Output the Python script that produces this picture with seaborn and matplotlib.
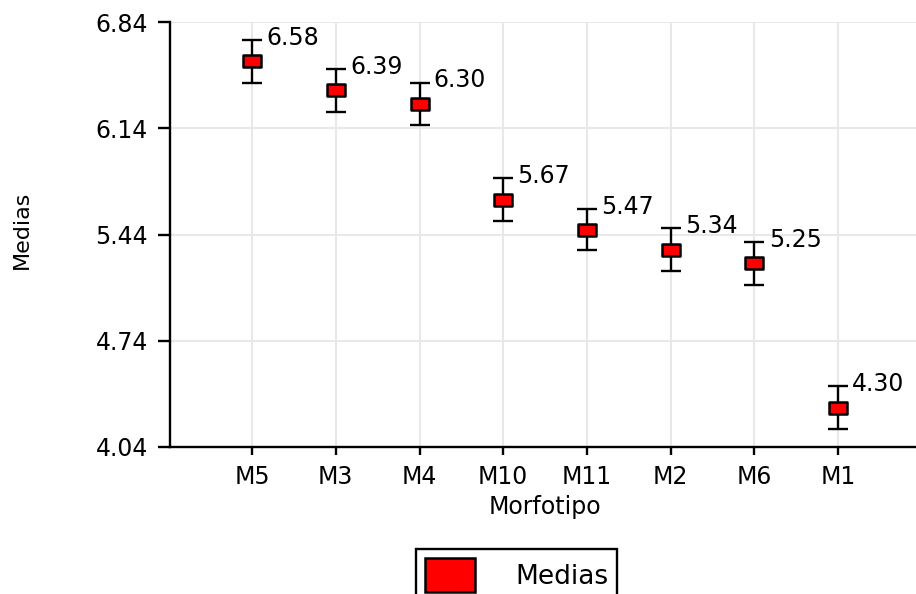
import matplotlib
matplotlib.use("Agg")
import matplotlib.pyplot as plt
import matplotlib.patches as mpatches
from matplotlib.path import Path
import seaborn as sns
import pandas as pd

# Mean values per morphotype with their error half-widths
morfotipos = ["M5", "M3", "M4", "M10", "M11", "M2", "M6", "M1"]
medias = [6.58, 6.39, 6.30, 5.67, 5.47, 5.34, 5.25, 4.30]
errores = [0.14, 0.14, 0.14, 0.14, 0.135, 0.14, 0.14, 0.14]
yticks = [4.04, 4.74, 5.44, 6.14, 6.84]

df = pd.DataFrame({"Morfotipo": morfotipos, "Medias": medias, "err": errores})

sns.set_theme(style="white")
plt.rcParams["font.family"] = ["DejaVu Sans"]
plt.rcParams["text.color"] = "black"
plt.rcParams["xtick.color"] = "black"
plt.rcParams["ytick.color"] = "black"
plt.rcParams["axes.labelcolor"] = "black"

FS = 17

fig = plt.figure(figsize=(9.16, 5.94), dpi=100)
ax = fig.add_axes([170 / 916, 1 - 447 / 594, 1 - 170 / 916, (447 - 22) / 594])

# Wide, short rectangle used as the point marker
rect = Path([(-1, -0.62), (1, -0.62), (1, 0.62), (-1, 0.62), (-1, -0.62)],
            [Path.MOVETO, Path.LINETO, Path.LINETO, Path.LINETO, Path.CLOSEPOLY])

xpos = list(range(len(morfotipos)))
ax.errorbar(xpos, df["Medias"], yerr=df["err"], fmt="none", ecolor="black",
            elinewidth=1.7, capsize=7, capthick=1.7, zorder=3)
sns.scatterplot(x=xpos, y=df["Medias"], marker=rect, s=175, color="#ff0000",
                edgecolor="black", linewidth=1.8, ax=ax, zorder=4, legend=False)

for x, m, e in zip(xpos, df["Medias"], df["err"]):
    ax.text(x + 0.17, m + e + 0.015, f"{m:.2f}", ha="left", va="center",
            fontsize=FS, color="black", zorder=5)

ax.set_xlim(-0.98, 7.93)
ax.set_ylim(4.04, 6.84)
ax.set_yticks(yticks)
ax.set_yticklabels([f"{t:.2f}" for t in yticks], fontsize=FS)
ax.set_xticks(xpos)
ax.set_xticklabels(morfotipos, fontsize=FS)

ax.grid(True, color="#e8e8e8", linewidth=1.5, zorder=0)
ax.set_axisbelow(True)
for side in ["top", "right"]:
    ax.spines[side].set_visible(False)
for side in ["left", "bottom"]:
    ax.spines[side].set_color("black")
    ax.spines[side].set_linewidth(1.7)
ax.tick_params(axis="y", which="both", left=True, length=9, width=1.7, pad=7)
ax.tick_params(axis="x", which="both", bottom=True, length=6, width=1.7, pad=7)

ax.set_xlabel("Morfotipo", fontsize=FS)
ax.xaxis.set_label_coords(0.503, -0.113)
ax.set_ylabel("Medias", fontsize=16)
ax.yaxis.set_label_coords(-0.185, 0.51)

handle = mpatches.Patch(facecolor="#ff0000", edgecolor="black", linewidth=1.8,
                        label="Medias")
leg = fig.legend(handles=[handle], loc="upper left",
                 bbox_to_anchor=(416 / 916, 1 - 549 / 594), fontsize=19,
                 frameon=True, fancybox=False, handlelength=1.9,
                 handleheight=1.6, handletextpad=1.5, borderpad=0.35,
                 borderaxespad=0)
leg.get_frame().set_edgecolor("black")
leg.get_frame().set_linewidth(1.7)
leg.get_frame().set_alpha(1)

fig.savefig("out.png", dpi=100)
